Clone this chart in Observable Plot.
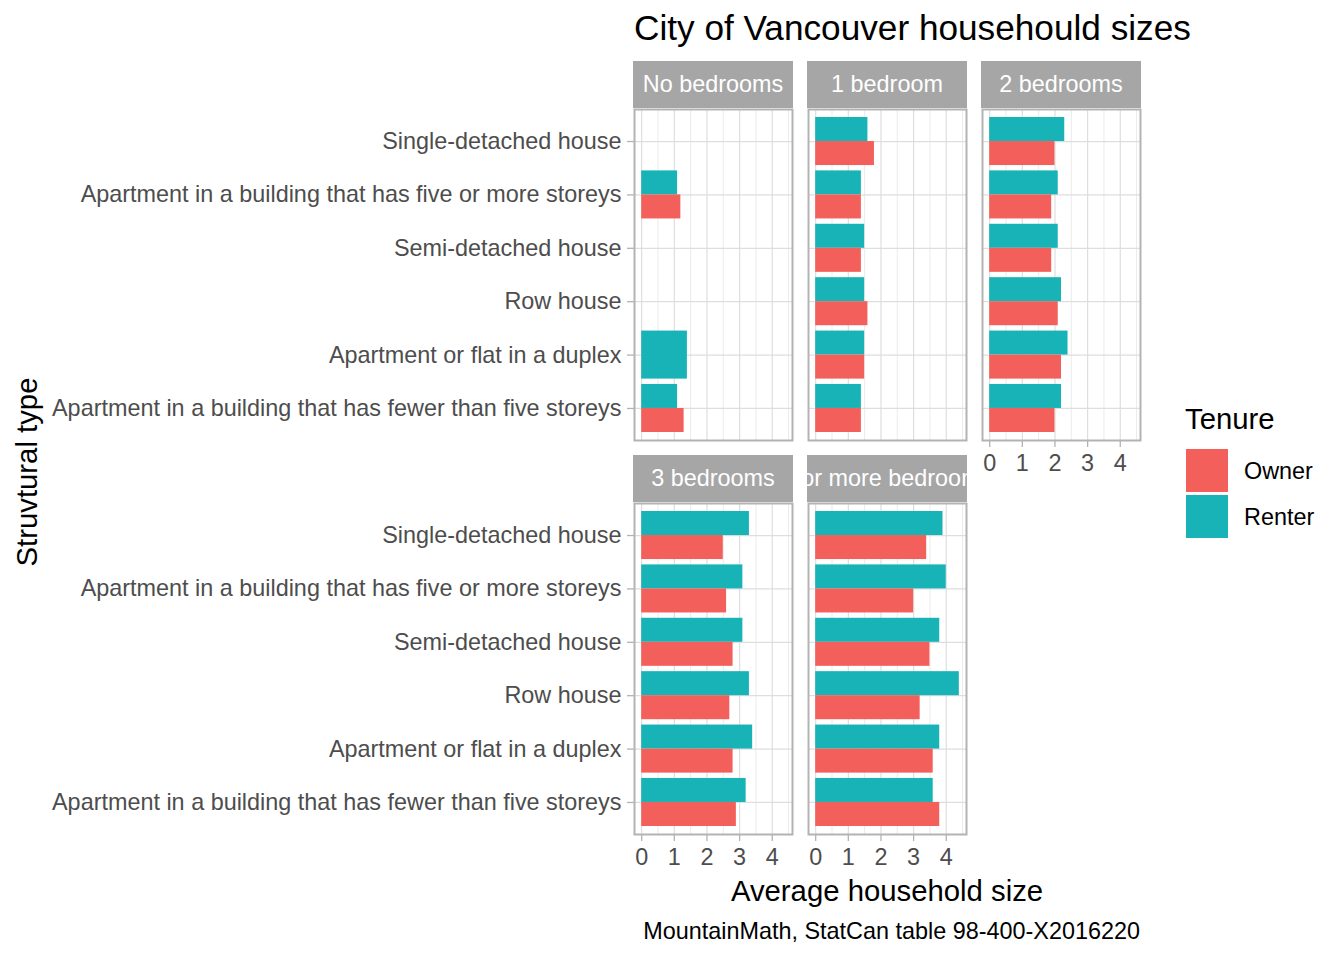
<!DOCTYPE html>
<html><head><meta charset="utf-8">
<script src="https://cdn.jsdelivr.net/npm/d3@7"></script>
<script src="https://cdn.jsdelivr.net/npm/@observablehq/plot@0.6"></script>
<style>
body{margin:0;background:#fff;}
#chart{position:relative;width:1344px;height:960px;font-family:"Liberation Sans",Arial,sans-serif;overflow:hidden;background:#fff;}
.abs{position:absolute;white-space:nowrap;line-height:1;}
.strip{position:absolute;background:#A6A6A6;color:#fff;display:flex;justify-content:center;align-items:center;overflow:hidden;font-size:23.4px;white-space:nowrap;}
.panel{position:absolute;}
</style></head><body><div id="chart"></div>
<script>
// ---- data ----
const structuralTypes = [
  "Single-detached house",
  "Apartment in a building that has five or more storeys",
  "Semi-detached house",
  "Row house",
  "Apartment or flat in a duplex",
  "Apartment in a building that has fewer than five storeys"
];
const bedroomLevels = ["No bedrooms", "1 bedroom", "2 bedrooms", "3 bedrooms", "4 or more bedrooms"];
const tenures = ["Owner", "Renter"];
const tenureColors = ["#F35F5A", "#18B3B7"];

const ownerNoBedrooms  = [null, 1.2, null, null, null, 1.3];
const renterNoBedrooms = [null, 1.1, null, null, 1.4, 1.1];
const owner1Bedroom    = [1.8, 1.4, 1.4, 1.6, 1.5, 1.4];
const renter1Bedroom   = [1.6, 1.4, 1.5, 1.5, 1.5, 1.4];
const owner2Bedrooms   = [2.0, 1.9, 1.9, 2.1, 2.2, 2.0];
const renter2Bedrooms  = [2.3, 2.1, 2.1, 2.2, 2.4, 2.2];
const owner3Bedrooms   = [2.5, 2.6, 2.8, 2.7, 2.8, 2.9];
const renter3Bedrooms  = [3.3, 3.1, 3.1, 3.3, 3.4, 3.2];
const owner4Bedrooms   = [3.4, 3.0, 3.5, 3.2, 3.6, 3.8];
const renter4Bedrooms  = [3.9, 4.0, 3.8, 4.4, 3.8, 3.6];

const ownerByBedroom  = [ownerNoBedrooms, owner1Bedroom, owner2Bedrooms, owner3Bedrooms, owner4Bedrooms];
const renterByBedroom = [renterNoBedrooms, renter1Bedroom, renter2Bedrooms, renter3Bedrooms, renter4Bedrooms];

const xMajorTicks = [0, 1, 2, 3, 4];
const xMinorTicks = [0.5, 1.5, 2.5, 3.5, 4.5];

const titleText = "City of Vancouver househould sizes";
const xTitle = "Average household size";
const yTitle = "Struvtural type";
const captionText = "MountainMath, StatCan table 98-400-X2016220";

// ---- layout ----
const panelLefts = [634, 808, 982];
const panelTops = [109, 503];
const panelW = 158, panelH = 331, stripH = 47;
const xDomain = [-0.22, 4.62];
const padInner = 0.1, padOuter = 0.15;

const chart = document.getElementById("chart");

function addText(txt, css) {
  const d = document.createElement("div");
  d.className = "abs";
  d.textContent = txt;
  Object.assign(d.style, css);
  chart.appendChild(d);
  return d;
}

function panel(b, col, row) {
  const left = panelLefts[col], top = panelTops[row];
  const showY = col === 0;
  const showX = row === 1 || col === 2;
  const mL = showY ? left : 0;
  const mB = showX ? 48 : 0;
  const rows = [];
  structuralTypes.forEach((t, i) => {
    const o = ownerByBedroom[b][i], r = renterByBedroom[b][i];
    if (o != null) rows.push({type: t, tenure: "Owner", value: o, paired: r != null});
    if (r != null) rows.push({type: t, tenure: "Renter", value: r, paired: o != null});
  });
  const step = panelH / (structuralTypes.length - padInner + 2 * padOuter);
  const half = step * (1 - padInner) / 2;
  const marks = [
    Plot.gridX(xMinorTicks, {stroke: "#EBEBEB", strokeOpacity: 1, strokeWidth: 1}),
    Plot.gridX(xMajorTicks, {stroke: "#DEDEDE", strokeOpacity: 1, strokeWidth: 1.2}),
    Plot.gridY(structuralTypes, {stroke: "#DEDEDE", strokeOpacity: 1, strokeWidth: 1.2}),
    Plot.barX(rows.filter(d => d.tenure === "Renter" && d.paired), {x: "value", y: "type", fill: "tenure", insetBottom: half}),
    Plot.barX(rows.filter(d => d.tenure === "Owner" && d.paired), {x: "value", y: "type", fill: "tenure", insetTop: half}),
    Plot.barX(rows.filter(d => !d.paired), {x: "value", y: "type", fill: "tenure"}),
    Plot.frame({stroke: "#B3B3B3", strokeWidth: 2})
  ];
  if (showY) {
    marks.push(Plot.axisY(structuralTypes, {stroke: "#B3B3B3", fill: "#4D4D4D", strokeWidth: 1.3, fontSize: 23.4, tickSize: 7, tickPadding: 6, label: null}));
  }
  if (showX) {
    marks.push(Plot.axisX(xMajorTicks, {stroke: "#B3B3B3", fill: "#4D4D4D", strokeWidth: 1.3, fontSize: 23.4, tickSize: 7, tickPadding: 7, label: null}));
  }
  const fig = Plot.plot({
    width: mL + panelW,
    height: panelH + mB,
    marginLeft: mL, marginRight: 0, marginTop: 0, marginBottom: mB,
    style: {overflow: "visible", background: "transparent", fontFamily: "Liberation Sans, Arial, sans-serif", fontSize: "23.4px"},
    x: {domain: xDomain, axis: null},
    y: {domain: structuralTypes, type: "band", paddingInner: padInner, paddingOuter: padOuter, round: false, axis: null},
    color: {domain: tenures, range: tenureColors},
    marks
  });
  const wrap = document.createElement("div");
  wrap.className = "panel";
  wrap.style.left = (left - mL) + "px";
  wrap.style.top = top + "px";
  wrap.appendChild(fig);
  chart.appendChild(wrap);

  const strip = document.createElement("div");
  strip.className = "strip";
  strip.style.left = (left - 1) + "px";
  strip.style.top = (top - stripH - 1) + "px";
  strip.style.width = (panelW + 2) + "px";
  strip.style.height = stripH + "px";
  const span = document.createElement("span");
  span.textContent = bedroomLevels[b];
  span.style.flex = "none";
  strip.appendChild(span);
  chart.appendChild(strip);
}

bedroomLevels.forEach((b, i) => panel(i, i % 3, Math.floor(i / 3)));

// ---- texts ----
addText(titleText, {left: "634px", top: "10px", fontSize: "35.2px", color: "#000"});
addText(xTitle, {left: ((panelLefts[0] + panelLefts[2] + panelW) / 2) + "px", top: "876px", fontSize: "29.3px", color: "#000", transform: "translateX(-50%)"});
addText(captionText, {right: (1344 - panelLefts[2] - panelW) + "px", top: "920px", fontSize: "23.4px", color: "#000"});
addText(yTitle, {left: "27px", top: ((panelTops[0] + panelTops[1] + panelH) / 2) + "px", fontSize: "29.3px", color: "#000", transform: "translate(-50%,-50%) rotate(-90deg)"});

// ---- legend ----
addText("Tenure", {left: "1185px", top: "404px", fontSize: "29.3px", color: "#000"});
tenures.forEach((t, i) => {
  const key = document.createElement("div");
  Object.assign(key.style, {position: "absolute", left: "1186px", top: (449 + i * 46) + "px", width: "42px", height: "43px", background: tenureColors[i]});
  chart.appendChild(key);
  addText(t, {left: "1244px", top: (460 + i * 46) + "px", fontSize: "23.4px", color: "#000"});
});
</script></body></html>
